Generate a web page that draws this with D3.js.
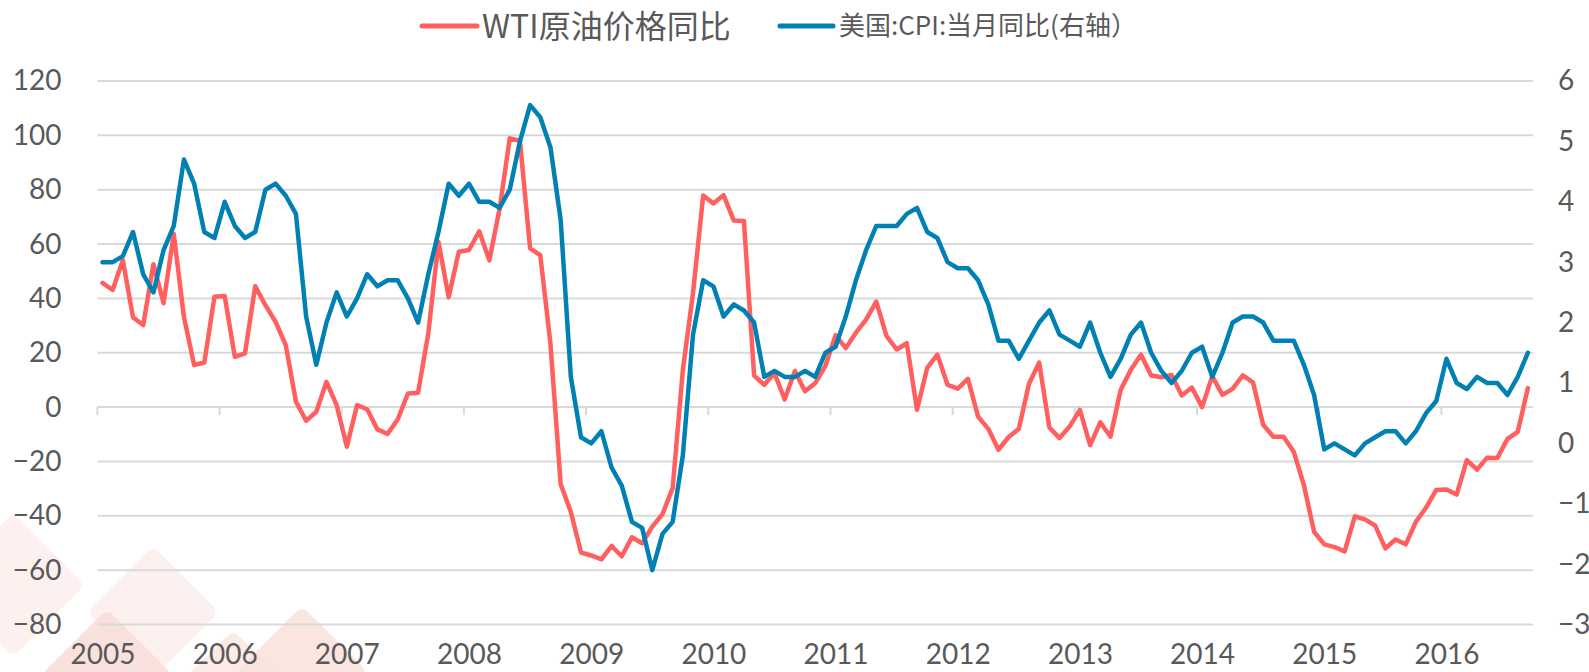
<!DOCTYPE html>
<html>
<head>
<meta charset="utf-8">
<script src="https://cdn.jsdelivr.net/npm/d3@7.9.0/dist/d3.min.js"></script>
<style>
  html, body { margin: 0; padding: 0; background: #fff; }
  svg { display: block; }
  .tick text { fill: #595959; font-family: Lato, "Noto Sans", sans-serif; font-size: 28px; }
</style>
</head>
<body>
<svg id="chart" width="1589" height="672"></svg>
<script>
// Data: monthly, Jan 2005 - Sep 2016
const years = ['2005', '2006', '2007', '2008', '2009', '2010', '2011', '2012', '2013', '2014', '2015', '2016'];

// WTI crude price, year-on-year % (left axis)
const wti = [
  45.7, 43.1, 54.1, 33.0, 30.2, 52.6, 38.2, 63.7, 33.2, 15.5, 16.4, 40.6,
  40.9, 18.5, 19.8, 44.5, 37.5, 31.4, 22.8, 2.0, -5.0, -1.7, 9.3, 0.7,
  -14.6, 0.7, -0.8, -8.2, -9.9, -4.5, 5.0, 5.3, 27.1, 60.8, 40.4, 57.2,
  57.8, 64.7, 54.0, 73.0, 98.9, 98.0, 58.4, 55.9, 23.3, -28.3, -38.6, -53.5,
  -54.6, -56.0, -51.1, -54.9, -47.9, -50.1, -44.0, -39.4, -29.8, 13.6, 42.0, 77.9,
  74.9, 78.0, 68.7, 68.5, 11.6, 8.2, 12.5, 2.8, 13.3, 5.8, 8.8, 15.1,
  26.5, 21.7, 27.4, 32.2, 38.8, 26.2, 21.2, 23.5, -1.0, 14.4, 19.3, 8.2,
  6.8, 10.4, -3.5, -8.0, -15.7, -11.0, -8.0, 8.6, 16.4, -7.5, -11.4, -7.1,
  -1.0, -14.0, -5.6, -10.9, 6.3, 13.7, 19.3, 11.6, 11.0, 11.8, 4.3, 7.2,
  0.0, 11.4, 4.5, 6.7, 11.7, 9.1, -6.5, -10.9, -10.9, -16.4, -28.7, -45.9,
  -50.5, -51.5, -53.1, -40.2, -41.3, -43.6, -52.0, -48.7, -50.5, -42.2, -37.0, -30.5,
  -30.3, -32.2, -19.5, -23.0, -18.6, -18.7, -11.7, -9.1, 7.0
];

// US CPI, year-on-year % (right axis)
const cpi = [
  3.0, 3.0, 3.1, 3.5, 2.8, 2.5, 3.2, 3.6, 4.7, 4.3, 3.5, 3.4,
  4.0, 3.6, 3.4, 3.5, 4.2, 4.3, 4.1, 3.8, 2.1, 1.3, 2.0, 2.5,
  2.1, 2.4, 2.8, 2.6, 2.7, 2.7, 2.4, 2.0, 2.8, 3.5, 4.3, 4.1,
  4.3, 4.0, 4.0, 3.9, 4.2, 5.0, 5.6, 5.4, 4.9, 3.7, 1.1, 0.1,
  0.0, 0.2, -0.4, -0.7, -1.3, -1.4, -2.1, -1.5, -1.3, -0.2, 1.8, 2.7,
  2.6, 2.1, 2.3, 2.2, 2.0, 1.1, 1.2, 1.1, 1.1, 1.2, 1.1, 1.5,
  1.6, 2.1, 2.7, 3.2, 3.6, 3.6, 3.6, 3.8, 3.9, 3.5, 3.4, 3.0,
  2.9, 2.9, 2.7, 2.3, 1.7, 1.7, 1.4, 1.7, 2.0, 2.2, 1.8, 1.7,
  1.6, 2.0, 1.5, 1.1, 1.4, 1.8, 2.0, 1.5, 1.2, 1.0, 1.2, 1.5,
  1.6, 1.1, 1.5, 2.0, 2.1, 2.1, 2.0, 1.7, 1.7, 1.7, 1.3, 0.8,
  -0.1, 0.0, -0.1, -0.2, 0.0, 0.1, 0.2, 0.2, 0.0, 0.2, 0.5, 0.7,
  1.4, 1.0, 0.9, 1.1, 1.0, 1.0, 0.8, 1.1, 1.5
];

const leftTicks = [-80, -60, -40, -20, 0, 20, 40, 60, 80, 100, 120];
const rightTicks = [-3, -2, -1, 0, 1, 2, 3, 4, 5, 6];
const seriesNames = ['WTI原油价格同比', '美国:CPI:当月同比(右轴）'];
const colors = ['#FF5F5F', '#0080B3'];

// Plot area
const plotLeft = 97.4, plotRight = 1533, plotTop = 81, plotBottom = 624.5;

const svg = d3.select('#chart');

// Scales
const x = d3.scaleLinear().domain([-0.5, wti.length - 0.5]).range([plotLeft, plotRight]);
const yL = d3.scaleLinear().domain([-80, 120]).range([plotBottom, plotTop]);
const yR = d3.scaleLinear().domain([-3, 6]).range([plotBottom, plotTop]);

// Faint watermark diamonds in the bottom-left corner
const wm = svg.append('g');
[[13, 585, 72, '#FCEEEB'], [153, 612, 66, '#FCEFEC'], [107, 675, 66, '#F8DDD8'],
 [233, 692, 62, '#FAE6E2'], [302, 672, 66, '#F9E0DB']].forEach(([cx, cy, r, c]) => {
  wm.append('rect')
    .attr('x', cx - r / Math.SQRT2).attr('y', cy - r / Math.SQRT2)
    .attr('width', r * Math.SQRT2).attr('height', r * Math.SQRT2)
    .attr('rx', 8)
    .attr('fill', c)
    .attr('opacity', 0.85)
    .attr('transform', `rotate(45 ${cx} ${cy})`);
});

// Gridlines
svg.append('g')
  .selectAll('line')
  .data(leftTicks)
  .join('line')
  .attr('x1', plotLeft).attr('x2', plotRight)
  .attr('y1', d => yL(d)).attr('y2', d => yL(d))
  .attr('stroke', '#D9D9D9')
  .attr('stroke-width', 2);

// Year tick marks on the zero line
const yearStarts = years.map((_, i) => i * 12);
svg.append('g')
  .selectAll('line')
  .data(yearStarts)
  .join('line')
  .attr('x1', d => x(d - 0.5)).attr('x2', d => x(d - 0.5))
  .attr('y1', yL(0)).attr('y2', yL(0) + 8)
  .attr('stroke', '#D9D9D9')
  .attr('stroke-width', 2);

// Left axis labels
const gL = svg.append('g')
  .attr('transform', `translate(${plotLeft},0)`)
  .call(d3.axisLeft(yL).tickValues(leftTicks).tickSize(0).tickPadding(36));

// Right axis labels
const gR = svg.append('g')
  .attr('transform', `translate(${plotRight},0)`)
  .call(d3.axisRight(yR).tickValues(rightTicks).tickSize(0).tickPadding(25));

// Year labels along the bottom
const gX = svg.append('g')
  .attr('transform', `translate(0,${plotBottom})`)
  .call(d3.axisBottom(x).tickValues(yearStarts).tickSize(0).tickPadding(20)
    .tickFormat((d, i) => years[i]));

[gL, gR, gX].forEach(g => {
  g.select('.domain').remove();
  g.attr('font-size', null).attr('font-family', null);
});

// Lines
const lineL = d3.line().x((d, i) => x(i)).y(d => yL(d));
const lineR = d3.line().x((d, i) => x(i)).y(d => yR(d));

svg.append('path')
  .attr('d', lineL(wti))
  .attr('fill', 'none')
  .attr('stroke', colors[0])
  .attr('stroke-width', 4.5)
  .attr('stroke-linejoin', 'round')
  .attr('stroke-linecap', 'round');

svg.append('path')
  .attr('d', lineR(cpi))
  .attr('fill', 'none')
  .attr('stroke', colors[1])
  .attr('stroke-width', 4.5)
  .attr('stroke-linejoin', 'round')
  .attr('stroke-linecap', 'round');

// Legend
const legendItems = [
  { name: seriesNames[0], color: colors[0], x0: 422, x1: 477, tx: 482, size: 32 },
  { name: seriesNames[1], color: colors[1], x0: 780, x1: 833, tx: 839, size: 26 }
];
const legend = svg.append('g');
legendItems.forEach(d => {
  legend.append('line')
    .attr('x1', d.x0).attr('x2', d.x1)
    .attr('y1', 26).attr('y2', 26)
    .attr('stroke', d.color)
    .attr('stroke-width', 5)
    .attr('stroke-linecap', 'round');
  legend.append('text')
    .attr('x', d.tx).attr('y', 26)
    .attr('dy', '0.36em')
    .attr('fill', '#595959')
    .attr('font-family', '"Noto Sans CJK SC", sans-serif')
    .attr('font-size', d.size)
    .text(d.name);
});
</script>
</body>
</html>
